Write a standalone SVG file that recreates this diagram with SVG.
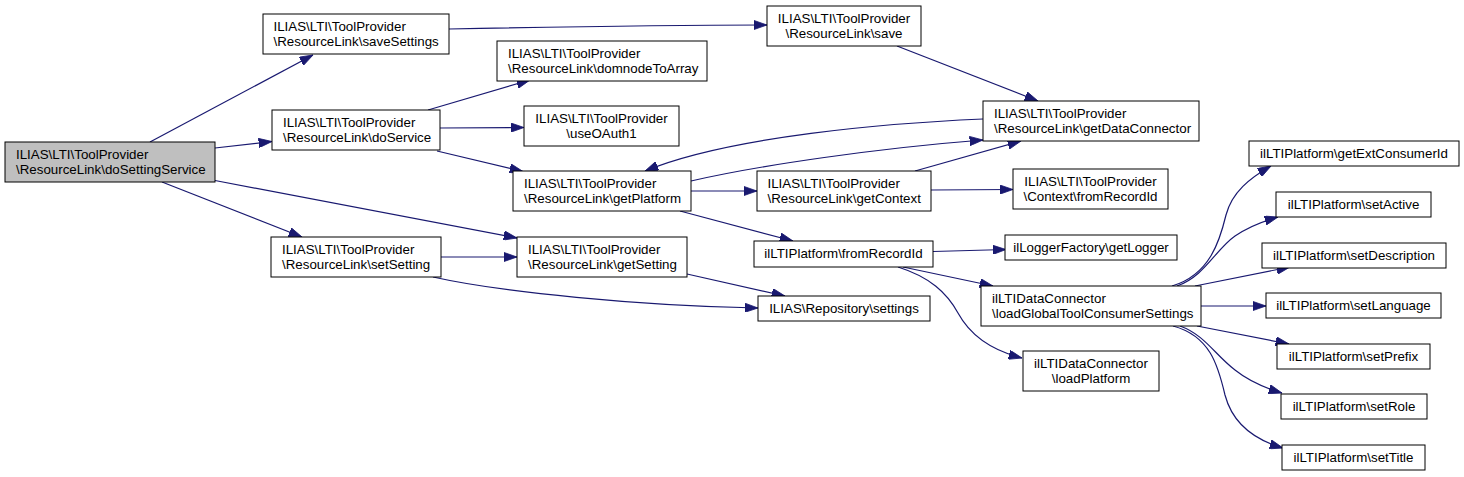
<svg xmlns="http://www.w3.org/2000/svg" width="1464" height="477" viewBox="0 0 1464 477">
<style>
.n rect{fill:#fff;stroke:#000;stroke-width:1}
.n.root rect{fill:#bfbfbf}
.n text{font-family:"Liberation Sans",Arial,Helvetica,sans-serif;font-size:13.33px;fill:#000}
.c{text-anchor:middle}
#edges path{fill:none;stroke:#191970;stroke-width:1.2;marker-end:url(#ah)}
</style>
<defs>
<marker id="ah" markerUnits="userSpaceOnUse" viewBox="0 0 13.33 9.33" markerWidth="13.33" markerHeight="9.33" refX="13.33" refY="4.67" orient="auto">
<path d="M0,0 L13.33,4.67 L0,9.33 z" fill="#191970" stroke="#191970" stroke-width="0.8"/>
</marker>
</defs>
<rect width="1464" height="477" fill="#fff"/>
<g id="edges">
<path d="M150,142 L313,55"/>
<path d="M215,148 L272,141.5"/>
<path d="M162,182 L302,237"/>
<path d="M215,180.5 L517,238"/>
<path d="M449,29 C550,27 680,25 767,25"/>
<path d="M428,110 L530,80"/>
<path d="M440,128 L524,127.5"/>
<path d="M437,151 L523,171.5"/>
<path d="M897,46 L1038,101"/>
<path d="M983,119 C890,123 730,136 645,171"/>
<path d="M691,181 C760,165 880,148 983,140"/>
<path d="M915,171 L1021,141"/>
<path d="M691,191 L757,191"/>
<path d="M931,190 L1013,189.5"/>
<path d="M680,211 L793,241"/>
<path d="M441,257 L517,257"/>
<path d="M433,277 C500,292 640,306 758,308"/>
<path d="M687,274 L785,296"/>
<path d="M933,251.5 L1006,249.5"/>
<path d="M903,267 L993,286"/>
<path d="M898,267 C930,277 947,293 958,313 C970,335 990,350 1022,358"/>
<path d="M1172,286 C1210,275 1220,240 1226,215 C1232,192 1250,178 1271,166"/>
<path d="M1177,286 C1205,276 1215,250 1235,236 C1248,227 1260,222 1278,217"/>
<path d="M1195,286 L1290,267"/>
<path d="M1201,306 L1266,306"/>
<path d="M1197,326 L1289,344"/>
<path d="M1180,326 C1205,335 1215,355 1235,370 C1250,382 1265,388 1282,393"/>
<path d="M1173,326 C1210,336 1218,365 1225,395 C1233,425 1255,440 1283,448"/>
</g>
<g id="doSettingService" class="n root"><rect x="5" y="142" width="210" height="40"/><text x="16" y="158.5">ILIAS\LTI\ToolProvider</text><text x="16" y="173.5">\ResourceLink\doSettingService</text></g>
<g id="saveSettings" class="n"><rect x="263" y="14" width="186" height="40"/><text x="273.5" y="30.5">ILIAS\LTI\ToolProvider</text><text x="273.5" y="45.5">\ResourceLink\saveSettings</text></g>
<g id="doService" class="n"><rect x="272" y="110" width="168" height="40"/><text x="283" y="126.5">ILIAS\LTI\ToolProvider</text><text x="283" y="141.5">\ResourceLink\doService</text></g>
<g id="setSetting" class="n"><rect x="271" y="237" width="170" height="40"/><text x="282" y="253.5">ILIAS\LTI\ToolProvider</text><text x="282" y="268.5">\ResourceLink\setSetting</text></g>
<g id="save" class="n"><rect x="767" y="6" width="154" height="40"/><text class="c" x="844" y="22.5">ILIAS\LTI\ToolProvider</text><text class="c" x="844" y="37.5">\ResourceLink\save</text></g>
<g id="domnodeToArray" class="n"><rect x="497" y="41" width="210" height="40"/><text x="508" y="57.5">ILIAS\LTI\ToolProvider</text><text x="508" y="72.5">\ResourceLink\domnodeToArray</text></g>
<g id="useOAuth1" class="n"><rect x="524" y="106" width="155" height="40"/><text class="c" x="601.5" y="122.5">ILIAS\LTI\ToolProvider</text><text class="c" x="601.5" y="137.5">\useOAuth1</text></g>
<g id="getPlatform" class="n"><rect x="513" y="171" width="178" height="40"/><text x="524" y="187.5">ILIAS\LTI\ToolProvider</text><text x="524" y="202.5">\ResourceLink\getPlatform</text></g>
<g id="getContext" class="n"><rect x="757" y="171" width="174" height="40"/><text x="767.5" y="187.5">ILIAS\LTI\ToolProvider</text><text x="767.5" y="202.5">\ResourceLink\getContext</text></g>
<g id="getSetting" class="n"><rect x="517" y="237" width="170" height="40"/><text x="528" y="253.5">ILIAS\LTI\ToolProvider</text><text x="528" y="268.5">\ResourceLink\getSetting</text></g>
<g id="platformFromRecordId" class="n"><rect x="754" y="241" width="179" height="26"/><text class="c" x="843.5" y="257.8">ilLTIPlatform\fromRecordId</text></g>
<g id="settings" class="n"><rect x="758" y="296" width="172" height="25"/><text class="c" x="844" y="312.5">ILIAS\Repository\settings</text></g>
<g id="getDataConnector" class="n"><rect x="983" y="101" width="216" height="40"/><text x="994" y="117.5">ILIAS\LTI\ToolProvider</text><text x="994" y="132.5">\ResourceLink\getDataConnector</text></g>
<g id="contextFromRecordId" class="n"><rect x="1013" y="169" width="155" height="40"/><text class="c" x="1090.5" y="185.5">ILIAS\LTI\ToolProvider</text><text class="c" x="1090.5" y="200.5">\Context\fromRecordId</text></g>
<g id="getLogger" class="n"><rect x="1005" y="235" width="172" height="25"/><text class="c" x="1091" y="251.5">ilLoggerFactory\getLogger</text></g>
<g id="loadGlobalToolConsumerSettings" class="n"><rect x="981" y="286" width="220" height="40"/><text x="992" y="302.5">ilLTIDataConnector</text><text x="992" y="317.5">\loadGlobalToolConsumerSettings</text></g>
<g id="loadPlatform" class="n"><rect x="1023" y="351" width="136" height="40"/><text class="c" x="1091" y="367.5">ilLTIDataConnector</text><text class="c" x="1091" y="382.5">\loadPlatform</text></g>
<g id="getExtConsumerId" class="n"><rect x="1249" y="141" width="210" height="25"/><text class="c" x="1354" y="157.5">ilLTIPlatform\getExtConsumerId</text></g>
<g id="setActive" class="n"><rect x="1276" y="192" width="155" height="25"/><text class="c" x="1353.5" y="208.5">ilLTIPlatform\setActive</text></g>
<g id="setDescription" class="n"><rect x="1262" y="243" width="184" height="25"/><text class="c" x="1354" y="259.5">ilLTIPlatform\setDescription</text></g>
<g id="setLanguage" class="n"><rect x="1266" y="293" width="175" height="25"/><text class="c" x="1353.5" y="309.5">ilLTIPlatform\setLanguage</text></g>
<g id="setPrefix" class="n"><rect x="1277" y="344" width="153" height="25"/><text class="c" x="1353.5" y="360.5">ilLTIPlatform\setPrefix</text></g>
<g id="setRole" class="n"><rect x="1281" y="394" width="146" height="25"/><text class="c" x="1354" y="410.5">ilLTIPlatform\setRole</text></g>
<g id="setTitle" class="n"><rect x="1282" y="445" width="143" height="25"/><text class="c" x="1353.5" y="461.5">ilLTIPlatform\setTitle</text></g>
</svg>
